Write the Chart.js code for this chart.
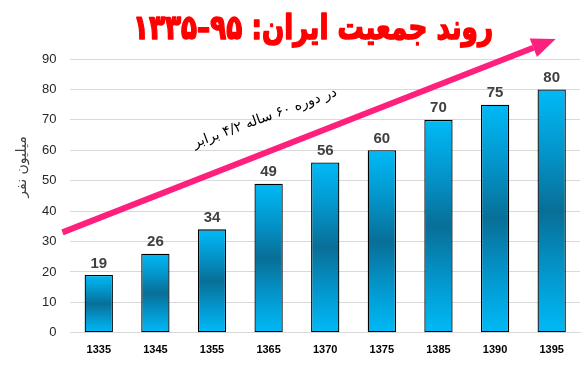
<!DOCTYPE html>
<html>
<head>
<meta charset="utf-8">
<script src="https://cdn.jsdelivr.net/npm/chart.js@4.4.1/dist/chart.umd.min.js"></script>
<style>
	body{margin:0;background:#fff;}
	#box{position:relative;width:583px;height:371px;}
</style>
</head>
<body>
<div id="box"><canvas id="population"></canvas></div>
<script>
	// data
	var years=['1335','1345','1355','1365','1370','1375','1385','1390','1395'];
	var population=[19,26,34,49,56,60,70,75,80];
	var yTicks=[0,10,20,30,40,50,60,70,80,90];
	var titleText='روند جمعیت ایران: ۹۵–۱۳۳۵';
	var arrowText='در دوره ۶۰ ساله ۴/۲ برابر';
	var yTitle='میلیون نفر';
	// arrow runs from about 33 on the left edge up to about 96.6 past the last bar
	var arrowFrom=33, arrowTo=96.6;

	function barfill(c){
		var ch=c.chart, y=ch.scales.y;
		if(!y || c.raw==null) return '#00b0f0';
		var top=y.getPixelForValue(c.raw), bot=y.getPixelForValue(0);
		if(!isFinite(top) || !isFinite(bot) || top==bot) return '#00b0f0';
		var g=ch.ctx.createLinearGradient(0,top,0,bot);
		g.addColorStop(0,'#00baf6');
		g.addColorStop(0.25,'#0396cc');
		g.addColorStop(0.5,'#086f97');
		g.addColorStop(0.75,'#0396cc');
		g.addColorStop(1,'#00baf6');
		return g;
	}

	var extras={
		id:'extras',
		afterDatasetsDraw:function(chart){
			var ctx=chart.ctx, meta=chart.getDatasetMeta(0), y=chart.scales.y, x=chart.scales.x;
			ctx.save();
			// value labels
			ctx.font='bold 15px "Liberation Sans", Arial, sans-serif';
			ctx.fillStyle='#404040';
			ctx.textAlign='center';
			ctx.textBaseline='bottom';
			meta.data.forEach(function(bar,i){
				ctx.fillText(population[i],bar.x,bar.y-4);
			});
			// growth arrow
			var x1=chart.chartArea.left-8, y1=y.getPixelForValue(arrowFrom);
			var x2=x.getPixelForValue(years.length-1)+4, y2=y.getPixelForValue(arrowTo);
			var ang=Math.atan2(y2-y1,x2-x1), head=24, half=10;
			var bx=x2-Math.cos(ang)*head, by=y2-Math.sin(ang)*head;
			ctx.strokeStyle='#ff1f7c';
			ctx.fillStyle='#ff1f7c';
			ctx.lineWidth=6;
			ctx.beginPath();
			ctx.moveTo(x1,y1);
			ctx.lineTo(bx,by);
			ctx.stroke();
			ctx.beginPath();
			ctx.moveTo(x2,y2);
			ctx.lineTo(bx+Math.sin(ang)*half,by-Math.cos(ang)*half);
			ctx.lineTo(bx-Math.sin(ang)*half,by+Math.cos(ang)*half);
			ctx.closePath();
			ctx.fill();
			ctx.restore();

			// text along the arrow
			ctx.save();
			ctx.translate(265,118);
			ctx.rotate(-20*Math.PI/180);
			ctx.direction='rtl';
			ctx.font='14px "DejaVu Sans", sans-serif';
			ctx.fillStyle='#000';
			ctx.textAlign='center';
			ctx.textBaseline='middle';
			ctx.fillText(arrowText,0,0);
			ctx.restore();

			// y axis title
			ctx.save();
			ctx.translate(22,167);
			ctx.rotate(-Math.PI/2);
			ctx.direction='rtl';
			ctx.font='14px "DejaVu Sans", sans-serif';
			ctx.fillStyle='#404040';
			ctx.textAlign='center';
			ctx.textBaseline='middle';
			ctx.fillText(yTitle,0,0);
			ctx.restore();

			// big title, stroked a little to get the heavy look
			ctx.save();
			ctx.direction='rtl';
			ctx.font='bold 34px "DejaVu Sans", sans-serif';
			var w=ctx.measureText(titleText).width;
			ctx.translate(313,30);
			ctx.scale(360/w,1);
			ctx.fillStyle='#ff0000';
			ctx.strokeStyle='#ff0000';
			ctx.lineWidth=1.6;
			ctx.lineJoin='round';
			ctx.textAlign='center';
			ctx.textBaseline='middle';
			ctx.fillText(titleText,0,0);
			ctx.strokeText(titleText,0,0);
			ctx.restore();
		}
	};

	new Chart(document.getElementById('population').getContext('2d'),{
		type:'bar',
		data:{
			labels:years,
			datasets:[{
				label:'population',
				data:population,
				backgroundColor:barfill,
				borderColor:'#000',
				borderWidth:1.3,
				borderSkipped:false,
				barPercentage:0.5,
				categoryPercentage:1
			}]
		},
		options:{
			responsive:true,
			maintainAspectRatio:false,
			animation:false,
			layout:{padding:{top:59,right:3,bottom:3,left:28}},
			plugins:{
				legend:{display:false},
				tooltip:{enabled:false}
			},
			scales:{
				x:{
					grid:{display:false,drawTicks:false},
					border:{color:'#d9d9d9',width:1},
					ticks:{color:'#000',padding:11,font:{family:'"Liberation Sans", Arial, sans-serif',size:11,weight:'bold'}}
				},
				y:{
					min:0,max:90,
					afterBuildTicks:function(s){s.ticks=yTicks.map(function(v){return {value:v};});},
					grid:{color:'#d9d9d9',drawTicks:false},
					border:{display:false},
					ticks:{color:'#262626',padding:14,font:{family:'"Liberation Sans", Arial, sans-serif',size:13}}
				}
			}
		},
		plugins:[extras]
	});
</script>
</body>
</html>
